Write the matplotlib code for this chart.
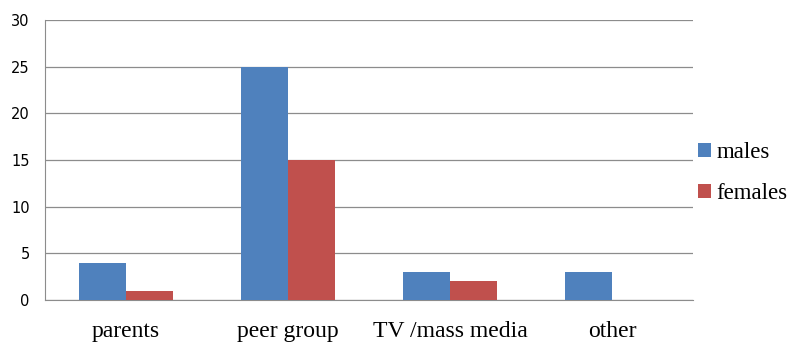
import matplotlib.pyplot as plt
import numpy as np

categories = ['parents', 'peer group', 'TV /mass media', 'other']
males = [4, 25, 3, 3]
females = [1, 15, 2, 0]
yticks = [0, 5, 10, 15, 20, 25, 30]

W, H = 799, 344
fig = plt.figure(figsize=(W / 100, H / 100), dpi=100)
ax = fig.add_axes([45 / W, (H - 300) / H, 648 / W, 280 / H])

x = np.arange(len(categories))
bw = 0.29
ax.bar(x - bw / 2, males, bw, color='#4F81BD', label='males', zorder=3)
ax.bar(x + bw / 2, females, bw, color='#C0504D', label='females', zorder=3)

ax.set_xlim(-0.5, len(categories) - 0.5)
ax.set_ylim(0, 30)
ax.set_yticks(yticks)
ax.set_yticklabels([str(v) for v in yticks], family='DejaVu Sans', fontsize=10.5)
ax.set_xticks(x)
ax.set_xticklabels(categories, family='Liberation Serif', fontsize=17)
ax.tick_params(axis='x', length=0, pad=15)
ax.tick_params(axis='y', length=0, pad=11)
ax.yaxis.grid(True, color='#8c8c8c', linewidth=0.9, zorder=0)

for side in ['top', 'right']:
    ax.spines[side].set_visible(False)
ax.spines['left'].set_color('#8c8c8c')
ax.spines['bottom'].set_color('#8c8c8c')

fig.legend(loc='upper left', bbox_to_anchor=(687 / W, 1 - 131 / H), frameon=False,
           prop={'family': 'Liberation Serif', 'size': 16.5}, borderpad=0,
           handlelength=0.55, handleheight=0.55, handletextpad=0.25, labelspacing=0.85)

fig.savefig('out.png', dpi=100)
